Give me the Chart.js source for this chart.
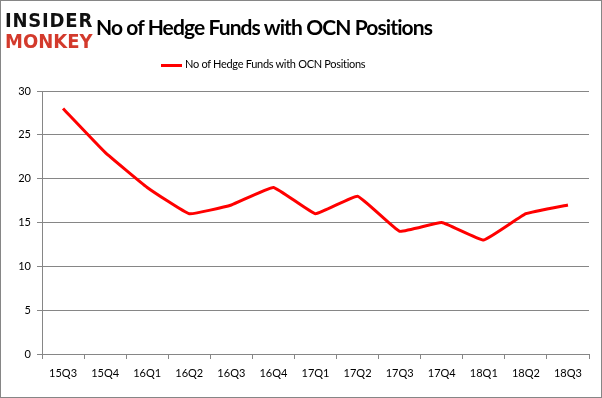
<!DOCTYPE html>
<html>
<head>
<meta charset="utf-8">
<script src="https://cdn.jsdelivr.net/npm/chart.js@4/dist/chart.umd.min.js"></script>
<style>
 body{margin:0;background:#fff;}
 #wrap{position:relative;width:602px;height:398px;box-sizing:border-box;border:1px solid #868686;overflow:hidden;font-family:Lato,"Open Sans",sans-serif;}
 #myChart{position:absolute;left:0;top:0;}
 .logo{position:absolute;left:4px;font-family:"DejaVu Sans Condensed","DejaVu Sans",sans-serif;font-weight:bold;line-height:1;}
 #title{position:absolute;left:95px;top:13px;font-size:21px;font-weight:bold;letter-spacing:-0.9px;color:#000;white-space:nowrap;}
 #legend{position:absolute;left:160px;top:56px;font-size:11px;letter-spacing:-0.3px;color:#000;white-space:nowrap;}
 #legend span.ln{display:inline-block;width:21px;height:3px;background:#ff0000;vertical-align:middle;margin-right:3px;}
</style>
</head>
<body>
<div id="wrap">
 <canvas id="myChart" width="602" height="398"></canvas>
 <div class="logo" style="top:9px;font-size:20px;color:#111;letter-spacing:0.8px;">INSIDER</div>
 <div class="logo" style="top:30px;font-size:20px;color:#d33a2c;letter-spacing:0px;">MONKEY</div>
 <div id="title">No of Hedge Funds with OCN Positions</div>
 <div id="legend"><span class="ln"></span>No of Hedge Funds with OCN Positions</div>
</div>
<script>
var quarters = ["15Q3","15Q4","16Q1","16Q2","16Q3","16Q4","17Q1","17Q2","17Q3","17Q4","18Q1","18Q2","18Q3"];
var hedgeFunds = [28,23,19,16,17,19,16,18,14,15,13,16,17];
var seriesName = "No of Hedge Funds with OCN Positions";

var ctx = document.getElementById('myChart').getContext('2d');
var chart = new Chart(ctx, {
    type: 'line',
    data: {
        labels: quarters,
        datasets: [{
            label: seriesName,
            data: hedgeFunds,
            borderColor: '#ff0000',
            backgroundColor: '#ff0000',
            borderWidth: 3,
            pointRadius: 0,
            tension: 0.1,
            fill: false
        }]
    },
    options: {
        responsive: false,
        animation: false,
        layout: {padding: {top: 90, right: 14, bottom: 0, left: 0}},
        plugins: {legend: {display: false}, title: {display: false}, tooltip: {enabled: false}},
        scales: {
            x: {
                offset: true,
                afterFit: function(s){ s.height = 45; },
                grid: {offset: true, drawOnChartArea: false, color: '#868686', tickLength: 5},
                border: {color: '#868686'},
                ticks: {color: '#000', font: {family: 'Lato', size: 11}, padding: 8, maxRotation: 0}
            },
            y: {
                min: 0, max: 30,
                afterFit: function(s){ s.width = 41; },
                grid: {color: '#868686', tickLength: 5},
                border: {color: '#868686'},
                ticks: {stepSize: 5, color: '#000', font: {family: 'Lato', size: 11}, padding: 6}
            }
        }
    }
});
</script>
</body>
</html>
